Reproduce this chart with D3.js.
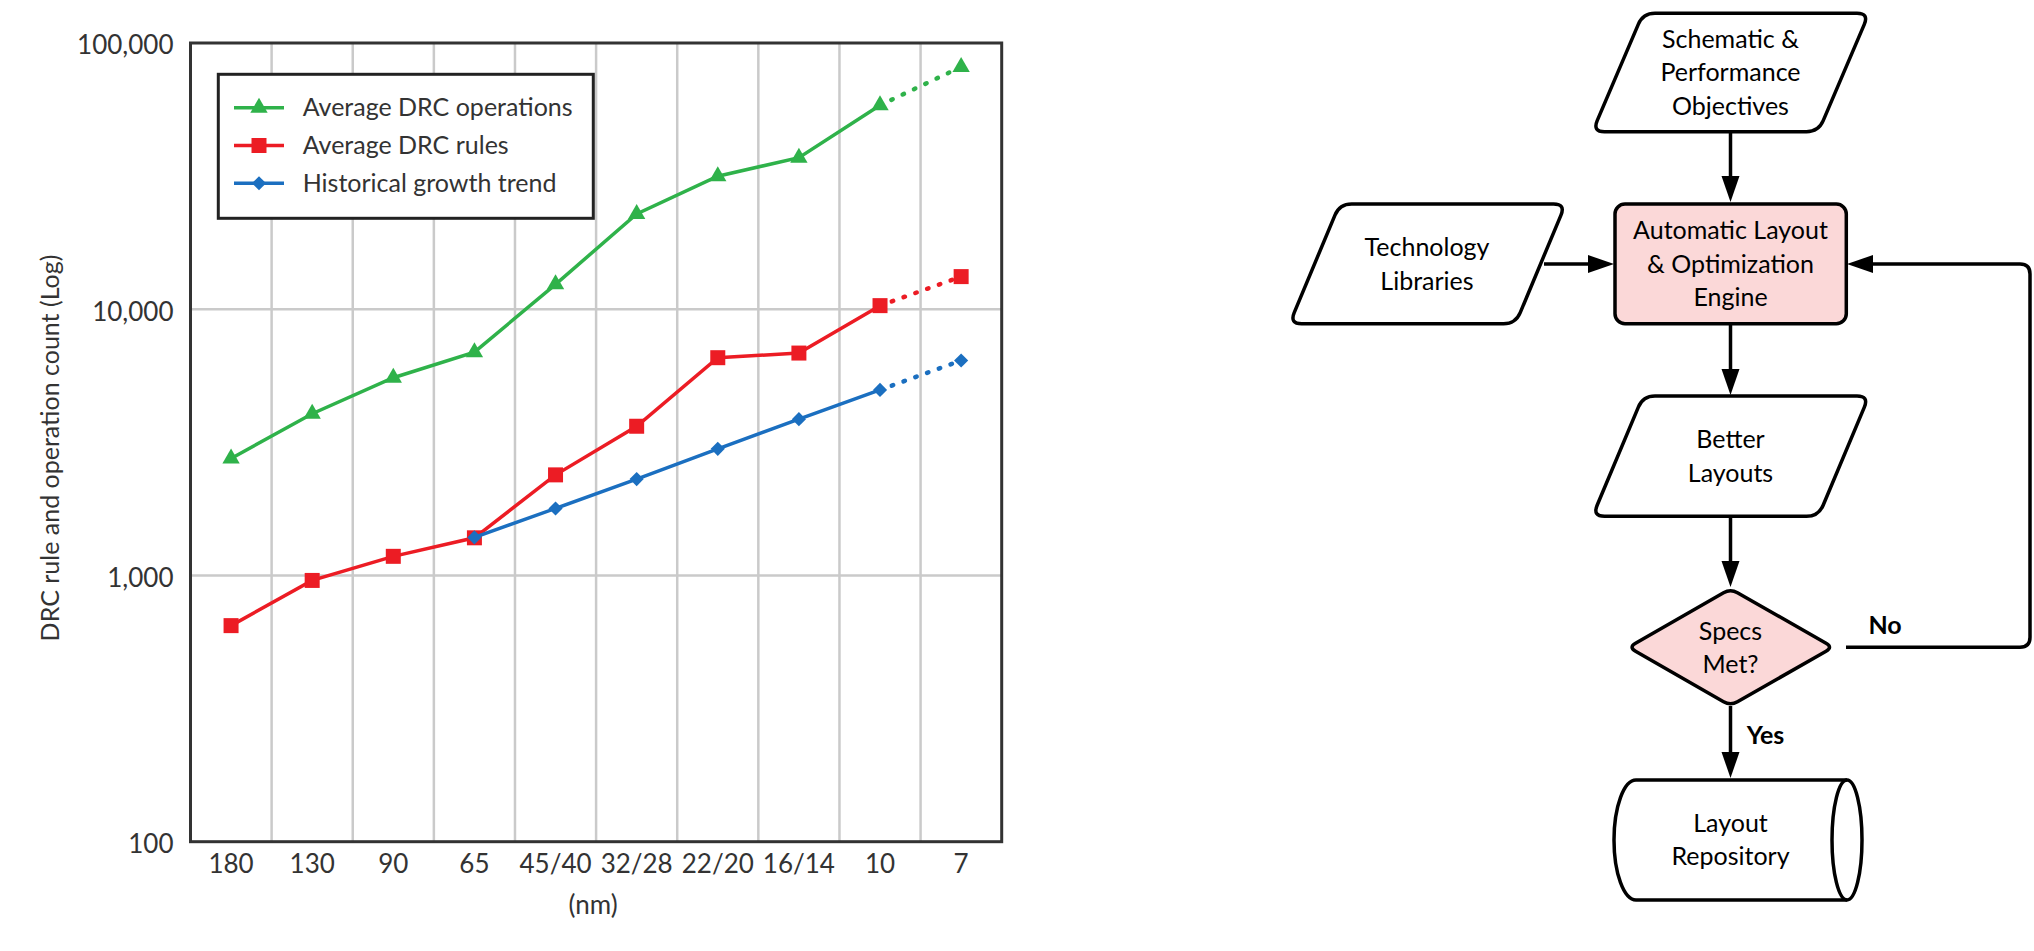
<!DOCTYPE html>
<html>
<head>
<meta charset="utf-8">
<script src="https://cdn.jsdelivr.net/npm/d3@7"></script>
<style>
  body { margin: 0; background: #fff; }
  svg { display: block; }
</style>
</head>
<body>
<svg width="2034" height="951"></svg>
<script>
// process nodes (nm) and values
const nodes = ['180', '130', '90', '65', '45/40', '32/28', '22/20', '16/14', '10', '7'];
const drcOperations = [2750, 4050, 5530, 6900, 12400, 22800, 31600, 37100, 58400, 81300];
const drcRules = [648, 958, 1180, 1385, 2387, 3635, 6576, 6845, 10316, 13260];
const growthTrend = [null, null, null, 1390, 1785, 2302, 2990, 3865, 4978, 6420];
const yTicks = [100, 1000, 10000, 100000];
const projectedFrom = '10';   // segment after this node is dotted

// flowchart texts
const schematicText = ['Schematic &', 'Performance', 'Objectives'];
const technologyText = ['Technology', 'Libraries'];
const engineText = ['Automatic Layout', '& Optimization', 'Engine'];
const betterText = ['Better', 'Layouts'];
const specsText = ['Specs', 'Met?'];
const repositoryText = ['Layout', 'Repository'];

const svg = d3.select('svg');
const chartFont = 'Lato, "DejaVu Sans", sans-serif';
const textColor = '#333';

const plot = {left: 190.5, right: 1001.7, top: 43, bottom: 841.7};

const xScale = d3.scaleBand().domain(nodes).range([plot.left, plot.right]);
const xPos = d => xScale(d) + xScale.bandwidth() / 2;
const yScale = d3.scaleLog().domain([100, 100000]).range([plot.bottom, plot.top]);

const chart = svg.append('g');

// grid
chart.append('g').selectAll('line').data(nodes.slice(1))
    .enter().append('line')
        .attr('x1', d => xScale(d)).attr('x2', d => xScale(d))
        .attr('y1', plot.top).attr('y2', plot.bottom)
        .attr('stroke', '#cacaca').attr('stroke-width', 2.5)
chart.append('g').selectAll('line').data(yTicks.slice(1, -1))
    .enter().append('line')
        .attr('x1', plot.left).attr('x2', plot.right)
        .attr('y1', d => yScale(d)).attr('y2', d => yScale(d))
        .attr('stroke', '#cacaca').attr('stroke-width', 2.5)

// axes
const yAxis = chart.append('g')
    .attr('transform', `translate(${plot.left},0)`)
    .call(d3.axisLeft(yScale).tickValues(yTicks).tickFormat(d3.format(',')).tickSize(0).tickPadding(17))
yAxis.select('.domain').remove()
yAxis.attr('font-family', chartFont).attr('font-size', 26)
yAxis.selectAll('text').attr('fill', textColor).attr('dy', '0.42em')

const xAxis = chart.append('g')
    .attr('transform', `translate(0,${plot.bottom})`)
    .call(d3.axisBottom(xScale).tickSize(0).tickPadding(13))
xAxis.select('.domain').remove()
xAxis.attr('font-family', chartFont).attr('font-size', 26)
xAxis.selectAll('text').attr('fill', textColor)

chart.append('rect')
    .attr('x', plot.left).attr('y', plot.top)
    .attr('width', plot.right - plot.left).attr('height', plot.bottom - plot.top)
    .attr('fill', 'none').attr('stroke', '#333').attr('stroke-width', 3)

chart.append('text')
    .attr('transform', 'translate(50,448) rotate(-90)')
    .attr('text-anchor', 'middle').attr('dy', '0.35em')
    .attr('font-family', chartFont).attr('font-size', 25).attr('fill', textColor)
    .text('DRC rule and operation count (Log)')

chart.append('text')
    .attr('x', (plot.left + plot.right) / 2 - 3).attr('y', 905)
    .attr('text-anchor', 'middle').attr('dy', '0.35em')
    .attr('font-family', chartFont).attr('font-size', 26).attr('fill', textColor)
    .text('(nm)')

// series
const series = [
    {name: 'Average DRC operations', values: drcOperations, color: '#2fb24a', symbol: d3.symbolTriangle, size: 130, rotate: 0},
    {name: 'Average DRC rules', values: drcRules, color: '#ec1c24', symbol: d3.symbolSquare, size: 225, rotate: 0},
    {name: 'Historical growth trend', values: growthTrend, color: '#1b6fc0', symbol: d3.symbolSquare, size: 100, rotate: 45}
];
const splitIdx = nodes.indexOf(projectedFrom);

const line = d3.line()
    .defined(d => d.v != null)
    .x(d => xPos(d.c))
    .y(d => yScale(d.v))

series.forEach(s => {
    const pts = s.values.map((v, i) => ({c: nodes[i], v: v, i: i}));
    const g = chart.append('g');
    g.append('path').datum(pts.filter(p => p.i <= splitIdx))
        .attr('d', line).attr('fill', 'none')
        .attr('stroke', s.color).attr('stroke-width', 3.5)
    g.append('path').datum(pts.filter(p => p.i >= splitIdx))
        .attr('d', line).attr('fill', 'none')
        .attr('stroke', s.color).attr('stroke-width', 4.5)
        .attr('stroke-linecap', 'round').attr('stroke-dasharray', '1.5 11')
    g.selectAll('.marker').data(pts.filter(p => p.v != null))
        .enter().append('path')
            .attr('class', 'marker')
            .attr('d', d3.symbol().type(s.symbol).size(s.size))
            .attr('transform', p => `translate(${xPos(p.c)},${yScale(p.v)}) rotate(${s.rotate})`)
            .attr('fill', s.color)
})

// legend
const legend = chart.append('g')
legend.append('rect')
    .attr('x', 218.3).attr('y', 74.3).attr('width', 375).attr('height', 144)
    .attr('fill', '#fff').attr('stroke', '#222').attr('stroke-width', 3)
series.forEach((s, i) => {
    const ly = 107.7 + i * 37.8;
    legend.append('line')
        .attr('x1', 234).attr('x2', 284).attr('y1', ly).attr('y2', ly)
        .attr('stroke', s.color).attr('stroke-width', 3.5)
    legend.append('path')
        .attr('d', d3.symbol().type(s.symbol).size(s.size))
        .attr('transform', `translate(259,${ly}) rotate(${s.rotate})`)
        .attr('fill', s.color)
    legend.append('text')
        .attr('x', 302.7).attr('y', ly).attr('dy', '0.35em')
        .attr('font-family', chartFont).attr('font-size', 25).attr('fill', textColor)
        .text(s.name)
})

// ---------- flowchart ----------
const flow = svg.append('g')
const flowFont = 'Lato, "Liberation Sans", sans-serif';
const pink = '#fbd8d8';
const cx = 1730.5;

svg.append('defs').append('marker')
    .attr('id', 'arrow').attr('markerUnits', 'userSpaceOnUse')
    .attr('markerWidth', 28).attr('markerHeight', 20)
    .attr('refX', 0).attr('refY', 10).attr('orient', 'auto')
    .append('path').attr('d', 'M0,1 L26,10 L0,19 Z').attr('fill', '#000')

const toward = (p, q, r) => {
    const dx = q[0] - p[0], dy = q[1] - p[1], L = Math.hypot(dx, dy);
    return [p[0] + dx / L * r, p[1] + dy / L * r];
}
const roundedPath = (pts, r) => {
    const n = pts.length;
    let d = '';
    pts.forEach((p, i) => {
        const a = toward(p, pts[(i + n - 1) % n], r);
        const b = toward(p, pts[(i + 1) % n], r);
        d += (i === 0 ? 'M' : 'L') + a + 'Q' + p + ' ' + b;
    })
    return d + 'Z';
}
const parallelogram = (xl, xr, top, bottom, skew) =>
    [[xl + skew, top], [xr + skew, top], [xr, bottom], [xl, bottom]];

const label = (lines, x, y, bold) => {
    const lh = 33.5;
    flow.append('g').selectAll('text').data(lines)
        .enter().append('text')
            .attr('x', x)
            .attr('y', (d, i) => y + (i - (lines.length - 1) / 2) * lh)
            .attr('dy', '0.35em').attr('text-anchor', 'middle')
            .attr('font-family', flowFont).attr('font-size', 25)
            .attr('font-weight', bold ? 'bold' : 'normal').attr('fill', '#000')
            .text(d => d)
}
const shape = (d, fill) => flow.append('path').attr('d', d)
    .attr('fill', fill).attr('stroke', '#000').attr('stroke-width', 3.5).attr('stroke-linejoin', 'round')

// arrows
const arrow = d => flow.append('path').attr('d', d)
    .attr('fill', 'none').attr('stroke', '#000').attr('stroke-width', 3.5)
    .attr('marker-end', 'url(#arrow)')
arrow(`M${cx},132 V${202 - 26}`)
arrow(`M1544,264 H${1614 - 26}`)
arrow(`M${cx},324 V${395 - 26}`)
arrow(`M${cx},516 V${587 - 26}`)
arrow(`M${cx},706 V${778 - 26}`)
arrow(`M1846,647.3 H2020 Q2030,647.3 2030,637.3 V274 Q2030,264 2020,264 H${1847 + 26}`)

shape(roundedPath(parallelogram(1592.5, 1818.5, 13.3, 131.7, 50.5), 12), '#fff')
label(schematicText, cx, 72.5)

shape(roundedPath(parallelogram(1289.6, 1515.6, 204, 323.7, 50), 12), '#fff')
label(technologyText, 1427, 264)

flow.append('rect')
    .attr('x', 1615).attr('y', 204).attr('width', 231.3).attr('height', 119.7).attr('rx', 10)
    .attr('fill', pink).attr('stroke', '#000').attr('stroke-width', 3.5)
label(engineText, cx, 264)

shape(roundedPath(parallelogram(1592.5, 1818.5, 396, 516.3, 50.5), 12), '#fff')
label(betterText, cx, 456)

shape(roundedPath([[cx, 588.7], [1833, 647.3], [cx, 705.7], [1628.6, 647.3]], 8), pink)
label(specsText, cx, 647.5)

shape('M1636,780 L1847,780 A15,60 0 0,1 1847,900 L1636,900 A22,60 0 0,1 1636,780 Z', '#fff')
flow.append('path').attr('d', 'M1847,780 A15,60 0 0,0 1847,900')
    .attr('fill', 'none').attr('stroke', '#000').attr('stroke-width', 3.5)
label(repositoryText, cx, 839.5)

label(['No'], 1885, 625, true)
label(['Yes'], 1765.5, 735.7, true)
</script>
</body>
</html>
